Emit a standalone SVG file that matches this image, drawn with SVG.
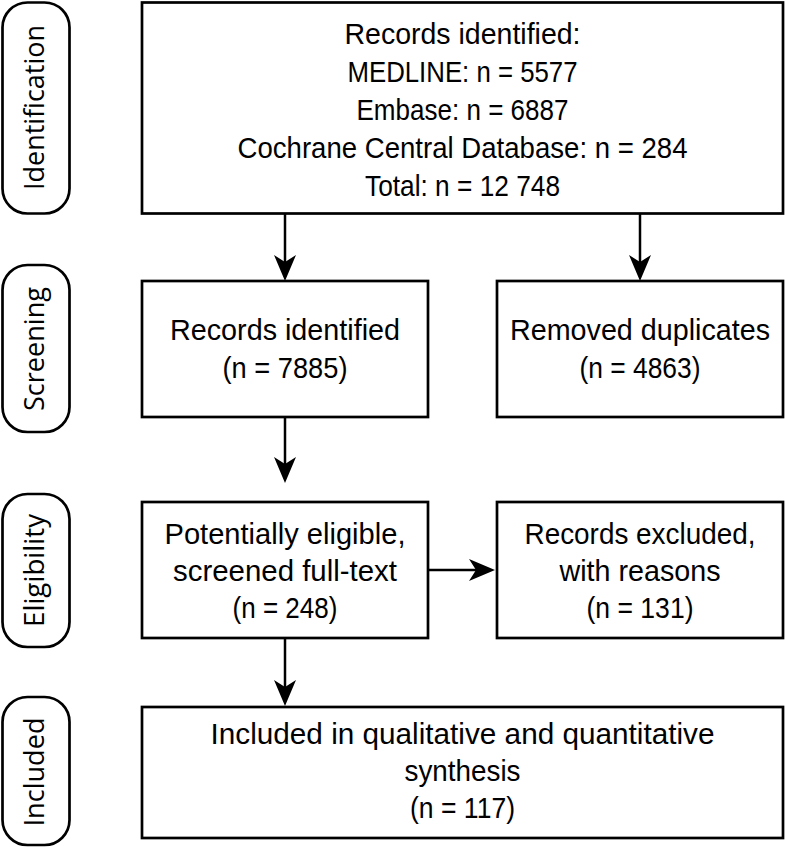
<svg xmlns="http://www.w3.org/2000/svg" width="785" height="847" viewBox="0 0 785 847">
<style>
.box{fill:#fff;stroke:#000;stroke-width:2.7}
.pill{fill:#fff;stroke:#000;stroke-width:2.7}
.t{font-family:"Liberation Sans",Arial,sans-serif;font-size:30px;fill:#000;text-anchor:middle}
.s{font-family:"Open Sans","DejaVu Sans",sans-serif;font-size:27px;fill:#000;text-anchor:middle}
.c{stroke:#000;stroke-width:2.5;fill:none;marker-end:url(#ah)}
</style>
<defs>
<marker id="ah" viewBox="0 0 26 22" refX="14" refY="11" markerWidth="26" markerHeight="22" markerUnits="userSpaceOnUse" orient="auto">
<path d="M0,0 L26,11 L0,22 L7,11 Z" fill="#000"/>
</marker>
</defs>
<g id="stage-identification">
<rect class="pill" x="2.5" y="2.5" width="67" height="211" rx="25"/>
<text class="s" transform="translate(44,107.5) rotate(-90)" textLength="165" lengthAdjust="spacingAndGlyphs">Identification</text>
</g>
<g id="stage-screening">
<rect class="pill" x="2.5" y="265" width="67" height="167" rx="25"/>
<text class="s" transform="translate(44,349) rotate(-90)" textLength="124" lengthAdjust="spacingAndGlyphs">Screening</text>
</g>
<g id="stage-eligibility">
<rect class="pill" x="2.5" y="494" width="67" height="153" rx="25"/>
<text class="s" transform="translate(44,570.5) rotate(-90)" textLength="113" lengthAdjust="spacingAndGlyphs">Eligibility</text>
</g>
<g id="stage-included">
<rect class="pill" x="2.5" y="697" width="67" height="148" rx="25"/>
<text class="s" transform="translate(44,772) rotate(-90)" textLength="109" lengthAdjust="spacingAndGlyphs">Included</text>
</g>
<g id="connectors">
<line class="c" x1="285" y1="214" x2="285" y2="269"/>
<line class="c" x1="640" y1="214" x2="640" y2="269"/>
<line class="c" x1="285" y1="417" x2="285" y2="471"/>
<line class="c" x1="428" y1="570" x2="483" y2="570"/>
<line class="c" x1="285" y1="638" x2="285" y2="694"/>
</g>
<g id="records-identified-all">
<rect class="box" x="142" y="2.5" width="641" height="211"/>
<text class="t" x="462.5" y="44" textLength="236" lengthAdjust="spacingAndGlyphs">Records identified:</text>
<text class="t" x="462.5" y="82" textLength="230" lengthAdjust="spacingAndGlyphs">MEDLINE: n = 5577</text>
<text class="t" x="462.5" y="120" textLength="212" lengthAdjust="spacingAndGlyphs">Embase: n = 6887</text>
<text class="t" x="462.5" y="158" textLength="450" lengthAdjust="spacingAndGlyphs">Cochrane Central Database: n = 284</text>
<text class="t" x="462.5" y="196" textLength="195" lengthAdjust="spacingAndGlyphs">Total: n = 12 748</text>
</g>
<g id="records-identified">
<rect class="box" x="142" y="281" width="286" height="136"/>
<text class="t" x="285" y="340" textLength="230" lengthAdjust="spacingAndGlyphs">Records identified</text>
<text class="t" x="285" y="378" textLength="125" lengthAdjust="spacingAndGlyphs">(n = 7885)</text>
</g>
<g id="removed-duplicates">
<rect class="box" x="497" y="281" width="286" height="136"/>
<text class="t" x="640" y="340" textLength="260" lengthAdjust="spacingAndGlyphs">Removed duplicates</text>
<text class="t" x="640" y="378" textLength="121" lengthAdjust="spacingAndGlyphs">(n = 4863)</text>
</g>
<g id="potentially-eligible">
<rect class="box" x="142" y="502" width="286" height="136"/>
<text class="t" x="285" y="544" textLength="241" lengthAdjust="spacingAndGlyphs">Potentially eligible,</text>
<text class="t" x="285" y="581" textLength="224" lengthAdjust="spacingAndGlyphs">screened full-text</text>
<text class="t" x="285" y="618" textLength="105" lengthAdjust="spacingAndGlyphs">(n = 248)</text>
</g>
<g id="records-excluded">
<rect class="box" x="497" y="502" width="286" height="136"/>
<text class="t" x="640" y="544" textLength="231" lengthAdjust="spacingAndGlyphs">Records excluded,</text>
<text class="t" x="640" y="581" textLength="161" lengthAdjust="spacingAndGlyphs">with reasons</text>
<text class="t" x="640" y="618" textLength="107" lengthAdjust="spacingAndGlyphs">(n = 131)</text>
</g>
<g id="included">
<rect class="box" x="142" y="707" width="641" height="131"/>
<text class="t" x="462.5" y="744" textLength="504" lengthAdjust="spacingAndGlyphs">Included in qualitative and quantitative</text>
<text class="t" x="462.5" y="781" textLength="116" lengthAdjust="spacingAndGlyphs">synthesis</text>
<text class="t" x="462.5" y="818" textLength="105" lengthAdjust="spacingAndGlyphs">(n = 117)</text>
</g>
</svg>
